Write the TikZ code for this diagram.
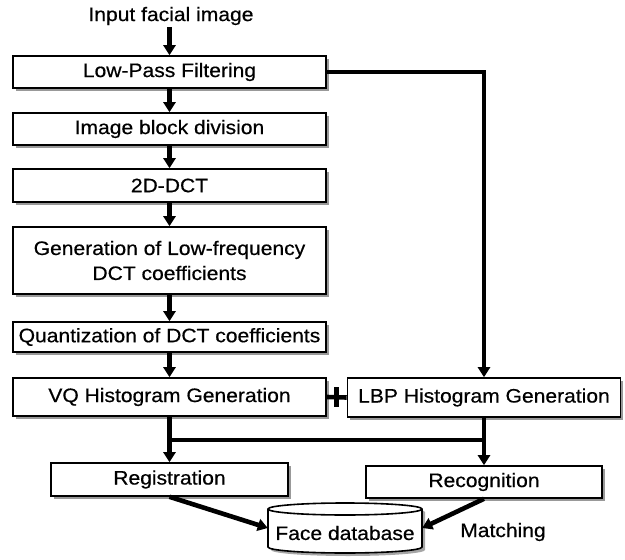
\documentclass[tikz,border=0pt]{standalone}
\usepackage{fontspec}
\setmainfont{Liberation Sans}[FakeStretch=1.08,FakeBold=0.5]
\usetikzlibrary{arrows.meta,shadows,calc}
\begin{document}
\begin{tikzpicture}[x=1pt,y=-1pt,
  box/.style={draw, line width=1.6pt, fill=white, inner sep=0pt, align=center,
    font=\fontsize{19.5}{25}\selectfont,
    drop shadow={shadow xshift=2.5pt, shadow yshift=-2.5pt, fill=black!40, opacity=1}},
  conn/.style={line width=4.6pt, -{Triangle[length=10pt,width=12pt]}},
  link/.style={line width=4.6pt},
  lbl/.style={font=\fontsize{19.5}{25}\selectfont, inner sep=2pt}]
\useasboundingbox (0,0) rectangle (625,560);

\node[lbl] (in) at (171,16) {Input facial image};
\node[box, minimum width=313pt, minimum height=32pt] (lpf) at (169.5,72) {Low-Pass Filtering};
\node[box, minimum width=313pt, minimum height=32pt] (ibd) at (169.5,129) {Image block division};
\node[box, minimum width=313pt, minimum height=33pt] (dct) at (169.5,185.5) {2D-DCT};
\node[box, minimum width=313pt, minimum height=67pt] (gen) at (169.5,260.5) {Generation of Low-frequency\\DCT coefficients};
\node[box, minimum width=313pt, minimum height=30pt] (qnt) at (169.5,337) {Quantization of DCT coefficients};
\node[box, minimum width=313pt, minimum height=38pt] (vq) at (169.5,397) {VQ Histogram Generation};
\node[box, minimum width=273pt, minimum height=39pt] (lbp) at (484,397.5) {LBP Histogram Generation};
\node[box, minimum width=237pt, minimum height=33pt] (reg) at (169.5,479.5) {Registration};
\node[box, minimum width=236pt, minimum height=32pt] (rec) at (484,482) {Recognition};

% database cylinder
\node[minimum width=154pt, minimum height=50pt, inner sep=0pt] (db) at (345,528) {};
\fill[black!35] (271,512) -- (271,550) arc[start angle=180,end angle=360,x radius=77pt,y radius=6pt]
  -- (425,512) arc[start angle=0,end angle=180,x radius=77pt,y radius=6pt] -- cycle;
\filldraw[fill=white, line width=1.6pt] (268,509) -- (268,547) arc[start angle=180,end angle=360,x radius=77pt,y radius=6pt]
  -- (422,509) arc[start angle=0,end angle=180,x radius=77pt,y radius=6pt] -- cycle;
\draw[line width=1.6pt] (268,509) arc[start angle=180,end angle=360,x radius=77pt,y radius=6pt];
\node[font=\fontsize{19.5}{25}\selectfont, inner sep=0pt] (dbtext) at (345,533) {Face database};

\node[lbl] (match) at (503,532) {Matching};

\coordinate (barY) at (0,440);

\draw[conn] (in.south -| lpf.north) -- (lpf.north);
\draw[conn] (lpf) -- (ibd);
\draw[conn] (ibd) -- (dct);
\draw[conn] (dct) -- (gen);
\draw[conn] (gen) -- (qnt);
\draw[conn] (qnt) -- (vq);
\draw[conn] (lpf.east) -| (lbp.north);
\draw[link] (vq.east) -- (lbp.west);
\draw[link] ($(vq.east)!0.5!(lbp.west)$) ++(0,-10) -- ++(0,20);
\draw[conn] (vq.south) -- (reg.north);
\draw[conn] (lbp.south) -- (rec.north);
\draw[link] (vq.south |- barY) -- (lbp.south |- barY);
\draw[conn] (reg.south) -- (db.west);
\draw[conn] (rec.south) -- (db.east);
\end{tikzpicture}
\end{document}
